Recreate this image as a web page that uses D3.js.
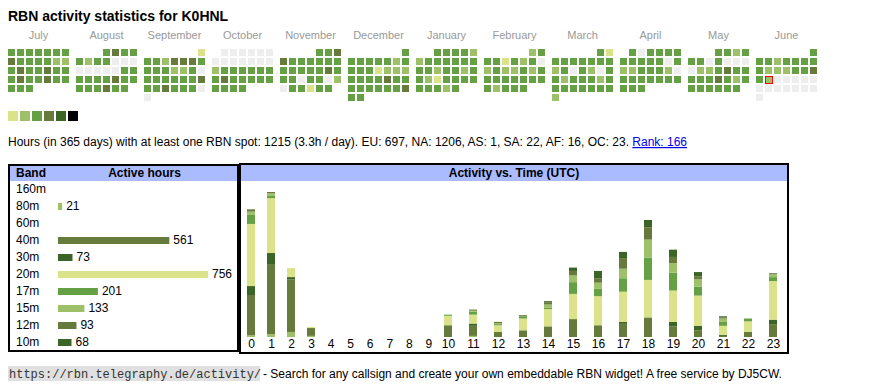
<!DOCTYPE html>
<html>
<head>
<meta charset="utf-8">
<script src="https://cdn.jsdelivr.net/npm/d3@7"></script>
<style>
  html, body { margin: 0; padding: 0; background: #fff; }
  svg text { font-family: "Liberation Sans", Arial, Helvetica, sans-serif; }
</style>
</head>
<body>
<svg id="chart" width="870" height="390"></svg>
<script>
// ---------- DATA ----------
const callsign = "K0HNL";
const months = ["July","August","September","October","November","December","January","February","March","April","May","June"];
const monthYears = [2024,2024,2024,2024,2024,2024,2025,2025,2025,2025,2025,2025];
const monthIndex = [6,7,8,9,10,11,0,1,2,3,4,5];
// activity level per day (0 = none, 1..5 = increasing colour class)
const dayLevels = [
  "3333333" + "4333322" + "3433433" + "3433433" + "333",
  "3433" + "3233000" + "0000033" + "3333433" + "333433",
  "1" + "3324443" + "3332230" + "3333334" + "3343330" + "0",
  "000000" + "0000000" + "2333333" + "3433333" + "3333",
  "334" + "4333333" + "3333343" + "3303302" + "033133",
  "3" + "3333323" + "3331222" + "3333433" + "3333334" + "33",
  "33332" + "2333333" + "3323323" + "3213333" + "33323",
  "23" + "3313230" + "2322323" + "3333333" + "32333",
  "31" + "3333333" + "2303203" + "3233323" + "3333333" + "2",
  "303333" + "3333303" + "2233320" + "3333333" + "333",
  "3323" + "3303000" + "0223433" + "3334323" + "333333",
  "3" + "3323333" + "3222334" + "3200000" + "0000000" + "0"
];
const highlightDay = {month: 11, day: 17};
const levelColors = ["#eeeeee","#dae28a","#9ec068","#65a045","#667b3b","#3b6526","#000000"];

const statsText = "Hours (in 365 days) with at least one RBN spot: 1215 (3.3h / day). EU: 697, NA: 1206, AS: 1, SA: 22, AF: 16, OC: 23. ";
const rankText = "Rank: 166";

const bands = ["160m","80m","60m","40m","30m","20m","17m","15m","12m","10m"];
const bandHours = [0,21,0,561,73,756,201,133,93,68];
const bandColors = ["#9ec068","#9ec068","#667b3b","#667b3b","#3b6526","#dae28a","#65a045","#9ec068","#667b3b","#3b6526"];

const hours = d3.range(24);
//                 0   1   2  3 4 5 6 7 8 9 10  11 12 13 14 15 16 17 18 19 20 21 22 23
const h160m = [    0,  0,  0, 0,0,0,0,0,0,0, 0,  0, 0, 0, 0, 0, 0, 0, 0, 0, 0, 0, 0, 0];
const h80m  = [    3,  5,  9, 2,0,0,0,0,0,0, 0,  2, 0, 0, 0, 0, 0, 0, 0, 0, 0, 0, 0, 0];
const h60m  = [    0,  0,  0, 0,0,0,0,0,0,0, 0,  0, 0, 0, 0, 0, 0, 0, 0, 0, 0, 0, 0, 0];
const h40m  = [   72,124, 94,14,0,0,0,0,0,0,21, 18, 9,12,19,32,21,25,35,19,12, 2, 9,23];
const h30m  = [   16, 21,  4, 0,0,0,0,0,0,0, 0,  4, 0, 0, 0, 0, 0, 2, 0, 8, 8, 2, 0, 8];
const h20m  = [  111, 98, 16, 2,0,0,0,0,0,0,17, 16,12,21,31,45,52,54,67,56,54,16,19,69];
const h17m  = [   16,  5,  0, 0,0,0,0,0,0,0, 2,  5, 2, 4, 2,21,13,24,40,32,16, 7, 5, 7];
const h15m  = [    6,  4,  0, 0,0,0,0,0,0,0, 0,  2, 2, 0, 6,12,11,17,32,17,13, 6, 0, 5];
const h12m  = [    4,  2,  0, 0,0,0,0,0,0,0, 0,  2, 2, 2, 4, 8, 8,19,22,11, 5, 2, 0, 2];
const h10m  = [    0,  0,  0, 0,0,0,0,0,0,0, 0,  0, 0, 0, 2, 6,13,11,13,13, 8, 2, 0, 0];
const hourSeries = [h160m,h80m,h60m,h40m,h30m,h20m,h17m,h15m,h12m,h10m];

// ---------- DRAW ----------
const svg = d3.select("#chart");
svg.append("rect").attr("width",870).attr("height",390).attr("fill","#fff");

svg.append("text").attr("x",8).attr("y",21)
  .attr("font-size",14).attr("font-weight","bold").attr("fill","#000")
  .text("RBN activity statistics for " + callsign);

// calendar
const xMonth = d3.scaleBand().domain(months).range([8, 8 + 68*12]);
const xCol = d3.scaleLinear().domain([0,6]).range([0,54]);
const yRow = d3.scaleLinear().domain([0,5]).range([49,94]);

svg.append("g").selectAll("text").data(months).join("text")
  .attr("x", m => xMonth(m) + 30.5).attr("y", 39)
  .attr("text-anchor","middle").attr("font-size",11).attr("fill","#999")
  .text(d => d);

const cells = [];
months.forEach((m, mi) => {
  const first = new Date(Date.UTC(monthYears[mi], monthIndex[mi], 1));
  const firstCol = (first.getUTCDay() + 6) % 7;
  const lv = dayLevels[mi];
  for (let i = 0; i < lv.length; i++) {
    cells.push({month: m, mi, day: i+1, col: (firstCol+i)%7, row: Math.floor((firstCol+i)/7), level: +lv[i]});
  }
});
svg.append("g").selectAll("rect").data(cells).join("rect")
  .attr("x", d => xMonth(d.month) + xCol(d.col))
  .attr("y", d => yRow(d.row))
  .attr("width",7).attr("height",7)
  .attr("fill", d => levelColors[d.level]);
const hl = cells.find(c => c.mi === highlightDay.month && c.day === highlightDay.day);
svg.append("rect")
  .attr("x", xMonth(hl.month) + xCol(hl.col) + 0.5).attr("y", yRow(hl.row) + 0.5)
  .attr("width",7).attr("height",7)
  .attr("fill", levelColors[hl.level]).attr("stroke","#ff0000").attr("stroke-width",1);

// legend
const legendLevels = [1,2,3,4,5,6];
svg.append("g").selectAll("rect").data(legendLevels).join("rect")
  .attr("x",(d,i) => 8 + 12*i).attr("y",111).attr("width",10).attr("height",10)
  .attr("fill", d => levelColors[d]);

// stats line
const st = svg.append("text").attr("x",8).attr("y",146).attr("font-size",12).attr("fill","#000");
st.append("tspan").text(statsText);
st.append("tspan").attr("fill","#0000ee").attr("text-decoration","underline").text(rankText);

// ---------- band table ----------
svg.append("rect").attr("x",9).attr("y",165).attr("width",229).attr("height",186)
  .attr("fill","none").attr("stroke","#000").attr("stroke-width",2);
svg.append("rect").attr("x",10).attr("y",166).attr("width",227).attr("height",15).attr("fill","#aabbff");
svg.append("text").attr("x",16).attr("y",177).attr("font-size",12).attr("font-weight","bold").text("Band");
svg.append("text").attr("x",144.5).attr("y",177).attr("font-size",12).attr("font-weight","bold")
  .attr("text-anchor","middle").text("Active hours");

const yBand = d3.scaleBand().domain(bands).range([182, 352]);
const xBar = d3.scaleLinear().domain([0, d3.max(bandHours)]).range([58, 208]);
const bandRows = bands.map((b,i) => ({band:b, hours:bandHours[i], color:bandColors[i]}));
const rowG = svg.append("g").selectAll("g").data(bandRows).join("g");
rowG.append("text").attr("x",16).attr("y", d => yBand(d.band) + 11).attr("font-size",12).text(d => d.band);
rowG.filter(d => d.hours > 0).append("rect")
  .attr("x", xBar(0)).attr("y", d => yBand(d.band) + 4)
  .attr("width", d => xBar(d.hours) - xBar(0)).attr("height",7)
  .attr("fill", d => d.color);
rowG.filter(d => d.hours > 0).append("text")
  .attr("x", d => xBar(d.hours) + 4).attr("y", d => yBand(d.band) + 11)
  .attr("font-size",12).text(d => d.hours);

// ---------- activity vs time ----------
svg.append("rect").attr("x",240).attr("y",164).attr("width",548).attr("height",189)
  .attr("fill","none").attr("stroke","#000").attr("stroke-width",2);
svg.append("rect").attr("x",241).attr("y",165).attr("width",546).attr("height",16).attr("fill","#aabbff");
svg.append("text").attr("x",514).attr("y",177).attr("font-size",12).attr("font-weight","bold")
  .attr("text-anchor","middle").text("Activity vs. Time (UTC)");

const table = hours.map(h => {
  const o = {hour: h};
  bands.forEach((b,i) => o[b] = hourSeries[i][h]);
  return o;
});
const stacked = d3.stack().keys(bands)(table);
const totals = table.map(r => d3.sum(bands, b => r[b]));
const xHour = d3.scaleLinear().domain([0,3,10,23]).range([251,311,448,773]);
const yAct = d3.scaleLinear().domain([0, d3.max(totals)]).range([337, 192]);

svg.append("g").selectAll("g").data(stacked).join("g")
  .attr("fill", (d,i) => bandColors[i])
  .selectAll("rect").data(d => d.filter(s => s[1] - s[0] > 0)).join("rect")
  .attr("x", d => xHour(d.data.hour) - 4)
  .attr("width", 8)
  .attr("y", d => yAct(d[1]))
  .attr("height", d => yAct(d[0]) - yAct(d[1]));

const xAxis = d3.axisBottom(xHour).tickValues(hours).tickFormat(d3.format("d")).tickSize(0).tickPadding(0);
const ax = svg.append("g").attr("transform","translate(0,338)").call(xAxis);
ax.select(".domain").remove();
ax.selectAll("text").attr("font-size",12).attr("fill","#000")
  .attr("font-family",'"Liberation Sans", Arial, sans-serif').attr("dy","0.71em").attr("y",1);

// ---------- footer ----------
const urlText = "https://rbn.telegraphy.de/activity/";
svg.append("rect").attr("x",8).attr("y",366).attr("width",252).attr("height",15).attr("fill","#e0e0e0");
svg.append("text").attr("x",9).attr("y",378).attr("font-size",12).attr("fill","#333")
  .style("font-family",'"Liberation Mono", "DejaVu Sans Mono", monospace').text(urlText);
svg.append("text").attr("x",263).attr("y",378).attr("font-size",12).attr("fill","#000")
  .text("- Search for any callsign and create your own embeddable RBN widget! A free service by DJ5CW.");
</script>
</body>
</html>
